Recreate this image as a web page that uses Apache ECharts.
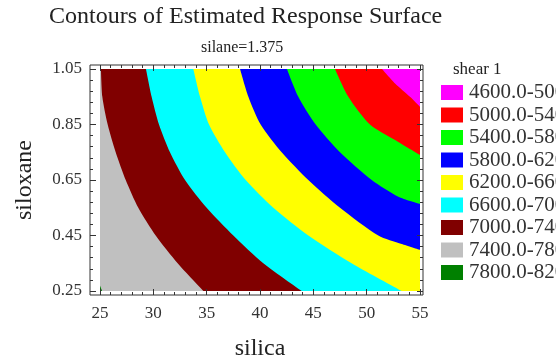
<!DOCTYPE html>
<html><head><meta charset="utf-8">
<script src="https://cdn.jsdelivr.net/npm/echarts@6/dist/echarts.min.js"></script>
<style>html,body{margin:0;padding:0;background:#fff}#c{width:556px;height:362px}</style>
</head><body><div id="c"></div>
<script>
// ---- data ----
const xTicks = [25, 30, 35, 40, 45, 50, 55];
const yTicks = [0.25, 0.45, 0.65, 0.85, 1.05];
const legendTitle = 'shear 1';
const levels = ['4600.0-5000.0','5000.0-5400.0','5400.0-5800.0','5800.0-6200.0','6200.0-6600.0','6600.0-7000.0','7000.0-7400.0','7400.0-7800.0','7800.0-8200.0'];
const levelColors = ['#ff00ff','#ff0000','#00ff00','#0000ff','#ffff00','#00ffff','#800000','#c0c0c0','#008000'];
// contour lines (silica, siloxane); each band fills the area above/right of its lower contour
const c8200 = [[25, 0.2], [55, 0.2]];                         // lower edge of 7800-8200 band
const c7800 = [[25, 0.27], [25.2, 0.25], [25.3, 0.24], [55, 0.24]];
const c7400 = [[25.09,1.05],[25.22,0.95],[25.72,0.85],[26.47,0.75],[27.41,0.65],[28.59,0.55],[30.22,0.45],[32.28,0.35],[34.69,0.25],[35.41,0.22],[55,0.22]];
const c7000 = [[29.31,1.05],[29.84,0.95],[30.53,0.85],[31.56,0.75],[32.97,0.65],[35.0,0.55],[37.5,0.45],[40.31,0.35],[43.91,0.25],[45.1,0.22],[55,0.22]];
const c6600 = [[33.75,1.05],[34.38,0.95],[35.22,0.85],[36.72,0.75],[38.66,0.65],[41.25,0.55],[44.53,0.45],[48.59,0.35],[53.28,0.25],[55,0.214]];
const c6200 = [[38.13,1.05],[38.91,0.95],[40.06,0.85],[42.03,0.75],[44.53,0.65],[47.5,0.55],[51.09,0.45],[53.28,0.419],[55,0.398]];
const c5800 = [[42.53,1.05],[43.59,0.95],[45.22,0.85],[47.5,0.75],[50.47,0.65],[52.97,0.59],[55,0.564]];
const c5400 = [[47.03,1.05],[48.28,0.95],[50.31,0.85],[52.66,0.794],[55,0.74]];
const c5000 = [[51.44,1.05],[52.66,0.998],[54.06,0.95],[55,0.914]];
const lowerContours = [c5000, c5400, c5800, c6200, c6600, c7000, c7400, c7800, c8200];

const serif = '"Liberation Serif","DejaVu Serif",serif';
const chart = echarts.init(document.getElementById('c'), null, {renderer: 'canvas'});

const series = [];
for (let i = levels.length - 1; i >= 0; i--) {
  series.push({
    name: levels[i], type: 'line', xAxisIndex: 1, yAxisIndex: 1,
    data: lowerContours[i], showSymbol: false, symbol: 'none', silent: true,
    smooth: 0.25,
    color: levelColors[i],
    itemStyle: {color: levelColors[i]},
    lineStyle: {width: 0, color: levelColors[i]},
    areaStyle: {color: levelColors[i], opacity: 1, origin: 'end'},
    z: 2
  });
}

const tickStyle = {lineStyle: {color: '#333', width: 1}};
chart.setOption({
  animation: false,
  backgroundColor: '#fff',
  title: [
    {text: 'Contours of Estimated Response Surface', left: 49, top: 5, padding: 0,
     textStyle: {fontFamily: serif, fontSize: 24, fontWeight: 'normal', color: '#222'}},
    {text: 'silane=1.375', left: 201, top: 40, padding: 0,
     textStyle: {fontFamily: serif, fontSize: 16, fontWeight: 'normal', color: '#222'}},
    {text: legendTitle, left: 453, top: 61, padding: 0,
     textStyle: {fontFamily: serif, fontSize: 17, fontWeight: 'normal', color: '#222'}}
  ],
  legend: {
    orient: 'vertical', left: 441, top: 82, padding: 0,
    itemWidth: 22, itemHeight: 15, itemGap: 1.5, icon: 'rect',
    data: levels,
    textStyle: {fontFamily: serif, fontSize: 21, color: '#333', padding: [0, 0, 0, 1]},
    selectedMode: false
  },
  grid: [
    {left: 90, right: 133, top: 65, bottom: 67, show: true, borderColor: '#333', borderWidth: 1, backgroundColor: '#fff', outerBoundsMode: 'none', containLabel: false},
    {left: 100, right: 136, top: 69, bottom: 71, outerBoundsMode: 'none', containLabel: false}
  ],
  xAxis: [
    {gridIndex: 0, type: 'value', show: false, min: 0, max: 1},
    {gridIndex: 1, type: 'value', position: 'bottom', offset: 4, min: xTicks[0], max: xTicks[xTicks.length-1], interval: 5,
     name: 'silica', nameLocation: 'middle', nameGap: 42,
     nameTextStyle: {fontFamily: serif, fontSize: 24, color: '#222'},
     axisLine: {show: false}, splitLine: {show: false},
     axisTick: Object.assign({inside: true, length: 6}, tickStyle),
     minorTick: {show: true, splitNumber: 5, length: 3, lineStyle: {color: '#333'}},
     axisLabel: {fontFamily: serif, fontSize: 17, color: '#333', margin: 10}, z: 10},
    {gridIndex: 1, type: 'value', position: 'top', offset: 4, min: xTicks[0], max: xTicks[xTicks.length-1], interval: 5,
     axisLine: {show: false}, splitLine: {show: false}, axisLabel: {show: false},
     axisTick: Object.assign({inside: true, length: 6}, tickStyle),
     minorTick: {show: true, splitNumber: 5, length: 3, lineStyle: {color: '#333'}}, z: 10}
  ],
  yAxis: [
    {gridIndex: 0, type: 'value', show: false, min: 0, max: 1},
    {gridIndex: 1, type: 'value', position: 'left', offset: 10, min: yTicks[0], max: yTicks[yTicks.length-1], interval: 0.2,
     name: 'siloxane', nameLocation: 'middle', nameGap: 53,
     nameTextStyle: {fontFamily: serif, fontSize: 24, color: '#222'},
     axisLine: {show: false}, splitLine: {show: false},
     axisTick: Object.assign({inside: true, length: 6}, tickStyle),
     minorTick: {show: true, splitNumber: 5, length: 3, lineStyle: {color: '#333'}},
     axisLabel: {fontFamily: serif, fontSize: 17, color: '#333', margin: 8, formatter: v => v.toFixed(2)}, z: 10},
    {gridIndex: 1, type: 'value', position: 'right', offset: 3, min: yTicks[0], max: yTicks[yTicks.length-1], interval: 0.2,
     axisLine: {show: false}, splitLine: {show: false}, axisLabel: {show: false},
     axisTick: Object.assign({inside: true, length: 6}, tickStyle),
     minorTick: {show: true, splitNumber: 5, length: 3, lineStyle: {color: '#333'}}, z: 10}
  ],
  series: series
});
</script></body></html>
